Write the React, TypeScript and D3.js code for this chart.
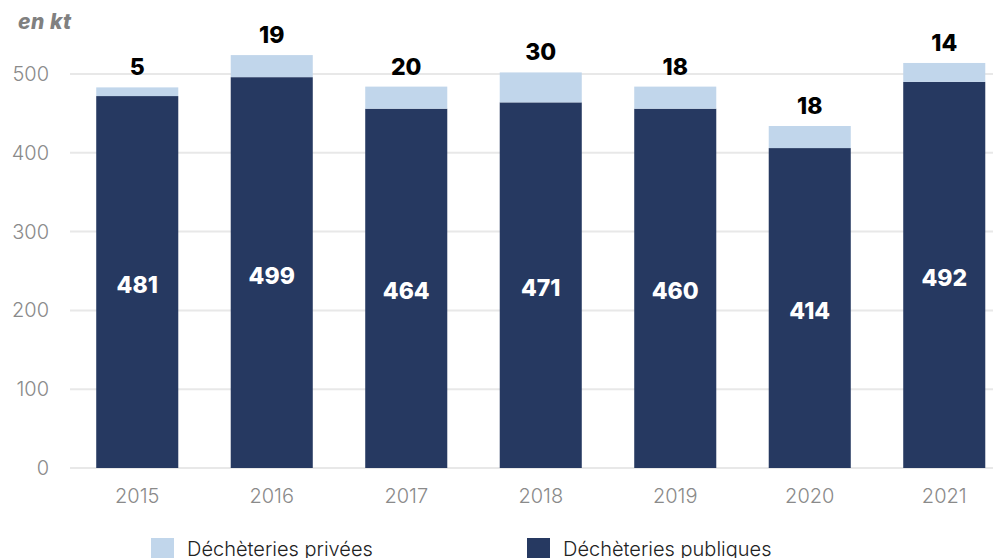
import { useEffect, useRef } from 'react';
import * as d3 from 'd3';

// années
const years = ['2015', '2016', '2017', '2018', '2019', '2020', '2021'];
// hauteurs des barres (kt)
const publiques = [472, 496, 456, 464, 456, 406, 490];
const privees = [11, 28, 28, 38, 28, 28, 24];
// étiquettes affichées
const labelsPubliques = ['481', '499', '464', '471', '460', '414', '492'];
const labelsPrivees = ['5', '19', '20', '30', '18', '18', '14'];
const yTicks = [0, 100, 200, 300, 400, 500];

const DARK = '#263961';
const LIGHT = '#c1d6eb';

const App = () => {
  const svgRef = useRef(null);

  useEffect(() => {
    const svg = d3.select(svgRef.current);
    svg.selectAll('*').remove();

    const width = 993;

    const x = d3
      .scaleBand()
      .domain(years)
      .range([70, 70 + 134.5 * years.length])
      .paddingInner(0.39)
      .paddingOuter(0.195);

    const y = d3.scaleLinear().domain([0, 500]).range([468, 74]);

    // grille
    svg
      .append('g')
      .selectAll('line')
      .data(yTicks)
      .enter()
      .append('line')
      .attr('x1', 70)
      .attr('x2', width)
      .attr('y1', (d) => y(d))
      .attr('y2', (d) => y(d))
      .attr('stroke', '#e8e8e8')
      .attr('stroke-width', 2);

    // ticks Y
    svg
      .append('g')
      .selectAll('text')
      .data(yTicks)
      .enter()
      .append('text')
      .attr('x', 49)
      .attr('y', (d) => y(d))
      .attr('dy', '0.35em')
      .attr('text-anchor', 'end')
      .attr('fill', '#8a8a8a')
      .attr('font-family', 'Inter')
      .attr('font-weight', 300)
      .attr('font-size', 20)
      .text((d) => d);

    svg
      .append('text')
      .attr('x', 18)
      .attr('y', 29)
      .attr('fill', '#808080')
      .attr('font-family', 'Inter')
      .attr('font-weight', 800)
      .attr('font-style', 'italic')
      .attr('font-size', 21)
      .attr('letter-spacing', 0.5)
      .text('en kt');

    // barres publiques
    svg
      .append('g')
      .selectAll('rect')
      .data(years)
      .enter()
      .append('rect')
      .attr('x', (d) => x(d)!)
      .attr('width', x.bandwidth())
      .attr('y', (d, i) => y(publiques[i]))
      .attr('height', (d, i) => y(0) - y(publiques[i]))
      .attr('fill', DARK);

    // barres privées
    svg
      .append('g')
      .selectAll('rect')
      .data(years)
      .enter()
      .append('rect')
      .attr('x', (d) => x(d)!)
      .attr('width', x.bandwidth())
      .attr('y', (d, i) => y(publiques[i] + privees[i]))
      .attr('height', (d, i) => y(publiques[i]) - y(publiques[i] + privees[i]))
      .attr('fill', LIGHT);

    // étiquettes dans les barres
    svg
      .append('g')
      .selectAll('text')
      .data(years)
      .enter()
      .append('text')
      .attr('x', (d) => x(d)! + x.bandwidth() / 2)
      .attr('y', (d, i) => (y(0) + y(publiques[i])) / 2 + 3)
      .attr('dy', '0.35em')
      .attr('text-anchor', 'middle')
      .attr('fill', 'white')
      .attr('font-family', 'Inter')
      .attr('font-weight', 800)
      .attr('font-size', 23)
      .text((d, i) => labelsPubliques[i]);

    // étiquettes au-dessus
    svg
      .append('g')
      .selectAll('text')
      .data(years)
      .enter()
      .append('text')
      .attr('x', (d) => x(d)! + x.bandwidth() / 2)
      .attr('y', (d, i) => y(publiques[i] + privees[i]) - 20)
      .attr('dy', '0.35em')
      .attr('text-anchor', 'middle')
      .attr('fill', '#000')
      .attr('font-family', 'Inter')
      .attr('font-weight', 800)
      .attr('font-size', 23)
      .text((d, i) => labelsPrivees[i]);

    // axe X
    svg
      .append('g')
      .selectAll('text')
      .data(years)
      .enter()
      .append('text')
      .attr('x', (d) => x(d)! + x.bandwidth() / 2)
      .attr('y', 496)
      .attr('dy', '0.35em')
      .attr('text-anchor', 'middle')
      .attr('fill', '#8a8a8a')
      .attr('font-family', 'Inter')
      .attr('font-weight', 300)
      .attr('font-size', 20)
      .text((d) => d);

    // légende
    const legend = [
      { label: 'Déchèteries privées', color: LIGHT, x: 151 },
      { label: 'Déchèteries publiques', color: DARK, x: 527 },
    ];
    const lg = svg
      .append('g')
      .selectAll('g')
      .data(legend)
      .enter()
      .append('g')
      .attr('transform', (d) => `translate(${d.x},538)`);
    lg.append('rect').attr('width', 23).attr('height', 23).attr('fill', (d) => d.color);
    lg.append('text')
      .attr('x', 36)
      .attr('y', 11)
      .attr('dy', '0.35em')
      .attr('fill', '#222')
      .attr('font-family', 'Inter')
      .attr('font-weight', 300)
      .attr('font-size', 20)
      .text((d) => d.label);
  }, []);

  return (
    <svg
      ref={svgRef}
      width={993}
      height={558}
      style={{ position: 'absolute', left: 0, top: 0, background: 'white' }}
    ></svg>
  );
};

export default App;
